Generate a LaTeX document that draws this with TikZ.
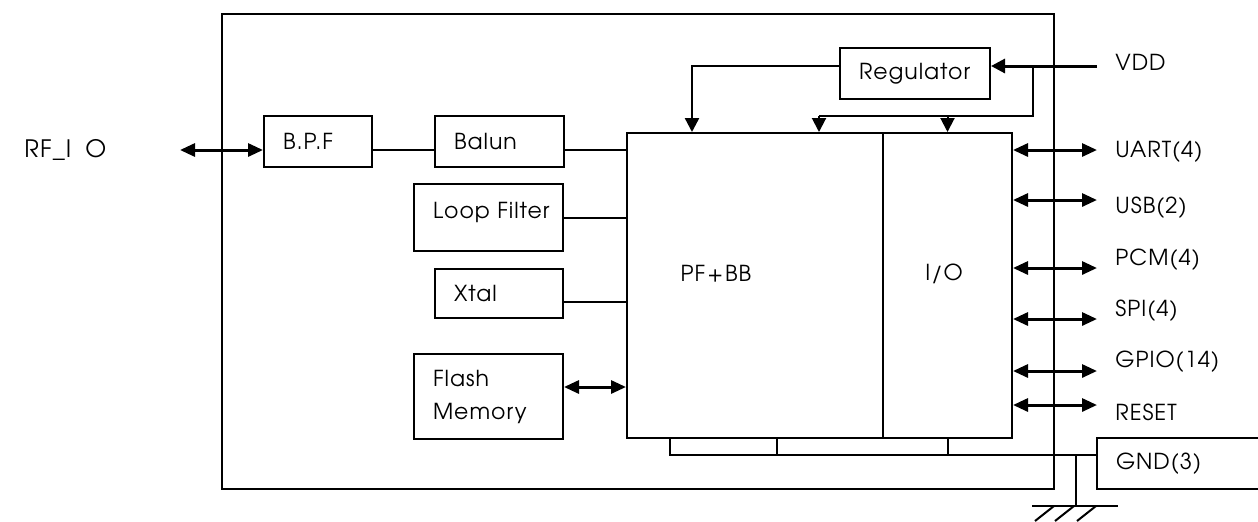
\documentclass[tikz,border=0pt]{standalone}
\usepackage{fontspec}
\setmainfont[LetterSpace=4.5]{TeX Gyre Adventor}
\usetikzlibrary{arrows.meta}

\begin{document}
\begin{tikzpicture}[x=0.5pt, y=-0.5pt, font=\fontsize{11pt}{13pt}\selectfont,
    box/.style={draw, line width=1pt, inner xsep=9.5pt, inner ysep=0pt, align=left},
    wire/.style={line width=1pt},
    sig/.style={line width=1.5pt, {Triangle[length=7.5pt,width=6.5pt]}-{Triangle[length=7.5pt,width=6.5pt]}},
    feed/.style={line width=1pt, -{Triangle[length=7pt,width=7pt]}},
    pin/.style={anchor=west, inner sep=0pt}]
    \useasboundingbox (0,0) rectangle (1258,521);

    % Draw the module outline
    \draw[wire] (222,14) rectangle (1054,489);

    % Place the blocks
    \node[box, text width=35pt, minimum height=25.5pt] (bpf) at (318,141.5) {B.P.F};
    \node[box, text width=45.5pt, minimum height=25.5pt] (balun) at (499.5,141.5) {Balun};
    \node[box, text width=55.5pt, minimum height=33.5pt, text depth=7pt] (loopf) at (488.5,217.5) {\mbox{Loop Filter}};
    \node[box, text width=45pt, minimum height=24.5pt] (xtal) at (499,293.5) {Xtal};
    \node[box, text width=55.5pt, minimum height=42.5pt] (flash) at (488.5,396.5) {Flash\\[3.5pt]Memory};
    \node[box, text width=56pt, minimum height=25.5pt] (reg) at (915,73.5) {\mbox{Regulator}};
    \node[box, minimum width=128pt, minimum height=152.5pt] (pfbb) at (755,285.5) {};
    \node[box, minimum width=64.5pt, minimum height=152.5pt] (io) at (947.5,285.5) {};
    \node (pfbbtxt) at (716,274) {PF\kern1pt+\kern1pt BB};
    \node (iotxt) at (944,274) {I/O};
    \node[box, text width=67.5pt, minimum height=25.5pt] (gnd) at (1183.5,463.5) {GND(3)};

    % RF port
    \node[pin, font=\fontsize{12pt}{14pt}\selectfont] (rf) at (24,150) {RF\_I\hspace{7pt}O};
    \coordinate (rfend) at (180,150);
    \draw[sig] (rfend) -- (rfend -| bpf.west);

    % Front end wiring
    \draw[wire] ([yshift=-4.25pt]bpf.east) -- ([yshift=-4.25pt]balun.west);
    \draw[wire] ([yshift=-4.25pt]balun.east) -- ([yshift=-4.25pt]balun.east -| pfbb.west);
    \draw[wire] (loopf.east) -- (loopf.east -| pfbb.west);
    \draw[wire] ([yshift=-4.25pt]xtal.east) -- ([yshift=-4.25pt]xtal.east -| pfbb.west);
    \draw[sig] ([yshift=4.75pt]flash.east) -- ([yshift=4.75pt]flash.east -| pfbb.west);

    % Supply
    \node[pin] (vdd) at (1115,62) {VDD};
    \coordinate (vddend) at (1097,66);
    \coordinate (vddtap) at (1033,66);
    \draw[feed, line width=1.5pt] (vddend) -- (vddend -| reg.east);
    \draw[feed, line width=1.2pt] ([yshift=3.75pt]reg.west) -| ([xshift=-31.5pt]pfbb.north);
    \draw[wire] (vddtap) |- ([xshift=32pt,yshift=8pt]pfbb.north);
    \draw[feed] ([xshift=32pt,yshift=8pt]pfbb.north) -- ([xshift=32pt]pfbb.north);
    \draw[feed] ([yshift=8pt]io.north) -- (io.north);

    % Interface pins
    \foreach \name/\txt/\ya/\yt in {uart/UART(4)/150/152, usb/USB(2)/200/208, pcm/PCM(4)/268/260,
        spi/SPI(4)/319/311, gpio/GPIO(14)/371/362, reset/RESET/405/412} {
        \coordinate (\name end) at (1097,\ya);
        \node[pin] (\name) at (1115,\yt) {\txt};
        \draw[sig] (io.east |- \name end) -- (\name end);
    }

    % Ground bus
    \coordinate (gbus) at (670,455);
    \coordinate (tie1) at (777,455);
    \coordinate (tie2) at (948,455);
    \coordinate (earth) at (1076,506);
    \draw[wire] (gbus |- pfbb.south) -- (gbus) -- (gbus -| gnd.west);
    \draw[wire] (tie1 |- pfbb.south) -- (tie1);
    \draw[wire] (tie2 |- io.south) -- (tie2);
    \draw[wire] (earth |- gbus) -- (earth);
    \draw[wire] ([xshift=-22pt]earth) -- ([xshift=21pt]earth);
    \foreach \dx in {-41,-21,1} {
        \draw[wire] ([xshift=\dx*0.5pt,yshift=-7.5pt]earth) -- ([xshift=\dx*0.5pt+9.5pt]earth);
    }
\end{tikzpicture}
\end{document}
